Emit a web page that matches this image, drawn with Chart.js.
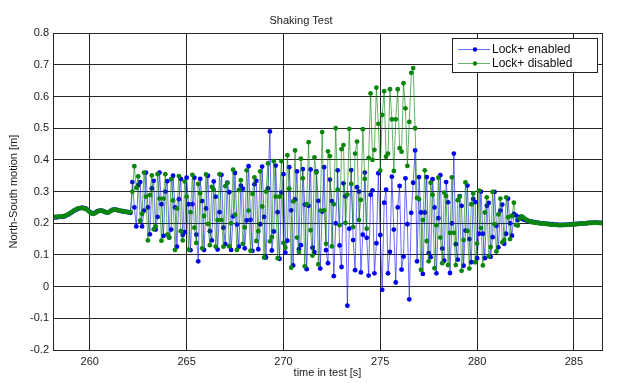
<!DOCTYPE html>
<html><head><meta charset="utf-8">
<script src="https://cdn.jsdelivr.net/npm/chart.js@4"></script>
<style>html,body{margin:0;padding:0;background:#fff;}canvas{display:block;}</style>
</head><body>
<canvas id="c" width="620" height="383"></canvas>
<script>
const chartTitle = 'Shaking Test';
const xAxisTitle = 'time in test [s]';
const yAxisTitle = 'North-South motion [m]';
const seriesNames = ['Lock+ enabled', 'Lock+ disabled'];
const xTicks = [260, 265, 270, 275, 280, 285];
const xTickLabels = ['260', '265', '270', '275', '280', '285'];
const yTicks = [-0.2, -0.1, 0, 0.1, 0.2, 0.3, 0.4, 0.5, 0.6, 0.7, 0.8];
const yTickLabels = ['-0.2', '-0.1', '0', '0.1', '0.2', '0.3', '0.4', '0.5', '0.6', '0.7', '0.8'];

const timeS = [
258.1,258.2,258.3,258.4,258.5,258.6,258.7,258.8,258.9,
259.0,259.1,259.2,259.3,259.4,259.5,259.6,259.7,259.8,259.9,
260.0,260.1,260.2,260.3,260.4,260.5,260.6,260.7,260.8,260.9,
261.0,261.1,261.2,261.3,261.4,261.5,261.6,261.7,261.8,261.9,
262.0,262.1,262.2,262.3,262.4,262.5,262.6,262.7,262.8,262.9,
263.0,263.1,263.2,263.3,263.4,263.5,263.6,263.7,263.8,263.9,
264.0,264.1,264.2,264.3,264.4,264.5,264.6,264.7,264.8,264.9,
265.0,265.1,265.2,265.3,265.4,265.5,265.6,265.7,265.8,265.9,
266.0,266.1,266.2,266.3,266.4,266.5,266.6,266.7,266.8,266.9,
267.0,267.1,267.2,267.3,267.4,267.5,267.6,267.7,267.8,267.9,
268.0,268.1,268.2,268.3,268.4,268.5,268.6,268.7,268.8,268.9,
269.0,269.1,269.2,269.3,269.4,269.5,269.6,269.7,269.8,269.9,
270.0,270.1,270.2,270.3,270.4,270.5,270.6,270.7,270.8,270.9,
271.0,271.1,271.2,271.3,271.4,271.5,271.6,271.7,271.8,271.9,
272.0,272.1,272.2,272.3,272.4,272.5,272.6,272.7,272.8,272.9,
273.0,273.1,273.2,273.3,273.4,273.5,273.6,273.7,273.8,273.9,
274.0,274.1,274.2,274.3,274.4,274.5,274.6,274.7,274.8,274.9,
275.0,275.1,275.2,275.3,275.4,275.5,275.6,275.7,275.8,275.9,
276.0,276.1,276.2,276.3,276.4,276.5,276.6,276.7,276.8,276.9,
277.0,277.1,277.2,277.3,277.4,277.5,277.6,277.7,277.8,277.9,
278.0,278.1,278.2,278.3,278.4,278.5,278.6,278.7,278.8,278.9,
279.0,279.1,279.2,279.3,279.4,279.5,279.6,279.7,279.8,279.9,
280.0,280.1,280.2,280.3,280.4,280.5,280.6,280.7,280.8,280.9,
281.0,281.1,281.2,281.3,281.4,281.5,281.6,281.7,281.8,281.9,
282.0,282.1,282.2,282.3,282.4,282.5,282.6,282.7,282.8,282.9,
283.0,283.1,283.2,283.3,283.4,283.5,283.6,283.7,283.8,283.9,
284.0,284.1,284.2,284.3,284.4,284.5,284.6,284.7,284.8,284.9,
285.0,285.1,285.2,285.3,285.4,285.5,285.6,285.7,285.8,285.9,
286.0,286.1,286.2,286.3,286.4
];

const lockEnabled = [
0.218,0.219,0.219,0.22,0.22,0.221,0.222,0.225,0.228,
0.232,0.236,0.24,0.243,0.246,0.248,0.249,0.248,0.246,0.242,
0.236,0.232,0.231,0.234,0.238,0.24,0.24,0.238,0.235,0.234,
0.236,0.24,0.243,0.243,0.242,0.24,0.239,0.238,0.237,0.236,
0.235,0.233,
0.33,0.25,0.19,0.32,0.33,0.19,0.24,0.36,0.25,0.165,
0.31,0.334,0.18,0.22,0.36,0.26,0.16,0.30,0.333,0.155,
0.18,0.35,0.25,0.126,0.276,0.34,0.163,0.172,0.344,0.26,
0.115,0.26,0.344,0.164,0.08,0.34,0.27,0.116,0.247,0.35,
0.175,0.146,0.332,0.284,0.117,0.235,0.353,0.186,0.134,0.328,
0.298,0.116,0.222,0.359,0.196,0.126,0.319,0.309,0.121,0.209,
0.38,0.211,0.113,0.323,0.334,0.118,0.197,0.379,0.22,0.092,
0.31,0.49,0.114,0.174,0.382,0.235,0.088,0.297,0.355,0.107,
0.145,0.377,0.241,0.067,0.275,0.364,0.118,0.131,0.371,0.259,
0.055,0.255,0.37,0.123,0.109,0.364,0.271,0.057,0.237,0.377,
0.115,0.074,0.338,0.27,0.033,0.2,0.367,0.13,0.062,0.326,
0.285,-0.06,0.183,0.368,0.147,0.052,0.314,0.30,0.045,0.164,
0.36,0.154,0.035,0.29,0.304,0.042,0.137,0.358,0.163,-0.01,
0.265,0.306,0.042,0.11,0.347,0.18,0.013,0.25,0.318,0.054,
0.095,0.342,0.197,-0.04,0.233,0.328,0.43,0.08,0.346,0.234,
0.04,0.234,0.346,0.106,0.093,0.339,0.25,0.042,0.216,0.352,
0.12,0.082,0.33,0.266,0.043,0.2,0.42,0.134,0.085,0.286,
0.255,0.066,0.177,0.319,0.15,0.077,0.277,0.267,0.09,0.167,
0.30,0.167,0.09,0.255,0.264,0.094,0.156,0.299,0.192,0.124,
0.24,0.259,0.135,0.167,0.278,0.2,0.161,0.23,0.225,0.21,
0.22,
0.215,0.212,0.21,0.208,0.206,0.205,0.204,
0.203,0.202,0.201,0.2,0.2,0.199,0.198,0.198,0.197,0.197,
0.196,0.196,0.195,0.195,0.195,0.195,0.195,0.196,0.196,0.197,
0.197,0.198,0.198,0.199,0.199,0.2,0.2,0.201,0.201,0.201,
0.202,0.202,0.202,0.201,0.201
];

const lockDisabled = [
0.219,0.22,0.22,0.221,0.221,0.222,0.223,0.226,0.229,
0.233,0.237,0.241,0.244,0.247,0.248,0.248,0.247,0.245,0.241,
0.235,0.231,0.23,0.233,0.237,0.239,0.24,0.238,0.236,0.234,
0.235,0.239,0.242,0.243,0.242,0.241,0.239,0.238,0.237,0.236,
0.234,0.236,
0.30,0.38,0.312,0.348,0.208,0.23,0.36,0.284,0.146,0.289,
0.351,0.181,0.19,0.355,0.278,0.145,0.278,0.355,0.164,0.155,
0.339,0.272,0.116,0.247,0.349,0.175,0.146,0.332,0.284,0.117,
0.235,0.353,0.186,0.138,0.324,0.295,0.121,0.223,0.354,0.198,
0.131,0.315,0.306,0.126,0.21,0.355,0.21,0.126,0.317,0.327,
0.127,0.2,0.369,0.227,0.116,0.305,0.336,0.135,0.187,0.367,
0.24,0.113,0.293,0.345,0.144,0.175,0.364,0.253,0.092,0.30,
0.389,0.143,0.156,0.396,0.284,0.09,0.284,0.396,0.138,0.123,
0.415,0.309,0.06,0.269,0.43,0.155,0.109,0.404,0.342,0.064,
0.26,0.456,0.178,0.098,0.408,0.36,0.07,0.24,0.488,0.241,
0.135,0.427,0.412,0.127,0.26,0.50,0.306,0.194,0.434,0.447,
0.201,0.29,0.498,0.324,0.188,0.42,0.458,0.21,0.274,0.497,
0.34,0.183,0.406,0.61,0.40,0.432,0.628,0.514,0.366,0.542,
0.617,0.41,0.42,0.623,0.528,0.365,0.528,0.623,0.437,0.426,
0.642,0.563,0.381,0.52,0.675,0.69,0.50,0.28,0.276,0.053,
0.21,0.367,0.144,0.08,0.328,0.29,0.058,0.194,0.344,0.155,
0.074,0.297,0.286,0.068,0.17,0.345,0.17,0.068,0.273,0.284,
0.05,0.147,0.329,0.176,0.057,0.26,0.294,0.077,0.136,0.303,
0.185,0.067,0.234,0.282,0.096,0.125,0.299,0.197,0.111,0.228,
0.278,0.14,0.147,0.282,0.219,0.15,0.223,0.265,0.195,0.193,
0.215,
0.222,0.218,0.213,0.209,0.206,0.204,0.203,
0.202,0.201,0.2,0.2,0.199,0.198,0.198,0.197,0.196,0.196,
0.195,0.195,0.194,0.194,0.194,0.195,0.195,0.195,0.196,0.196,
0.197,0.197,0.198,0.198,0.199,0.2,0.2,0.2,0.201,0.201,
0.201,0.202,0.202,0.201,0.201
];

const FONT = '"Liberation Sans", Arial, Helvetica, sans-serif';
Chart.defaults.font.family = FONT;
Chart.defaults.font.size = 11;
Chart.defaults.color = '#1a1a1a';

const GRID = '#262626';

const framePlugin = {
  id: 'frame',
  afterDatasetsDraw(chart) {
    const {ctx, chartArea: a} = chart;
    ctx.save();
    ctx.strokeStyle = GRID;
    ctx.lineWidth = 1;
    ctx.strokeRect(Math.round(a.left) + 0.5, Math.round(a.top) + 0.5,
      Math.round(a.right) - Math.round(a.left), Math.round(a.bottom) - Math.round(a.top));
    ctx.restore();
  }
};

const boxLegend = {
  id: 'boxLegend',
  afterDraw(chart) {
    const {ctx, chartArea: a} = chart;
    const w = 145, h = 34;
    const x = Math.round(a.right - 5 - w), y = Math.round(a.top + 5);
    ctx.save();
    ctx.fillStyle = '#fff';
    ctx.fillRect(x, y, w, h);
    ctx.strokeStyle = '#222';
    ctx.lineWidth = 1;
    ctx.strokeRect(x + 0.5, y + 0.5, w, h);
    chart.data.datasets.forEach((ds, i) => {
      const ly = y + 11.5 + i * 14;
      ctx.strokeStyle = ds.borderColor;
      ctx.lineWidth = 1;
      ctx.beginPath();
      ctx.moveTo(x + 6, ly);
      ctx.lineTo(x + 38, ly);
      ctx.stroke();
      ctx.fillStyle = ds.pointBackgroundColor;
      ctx.beginPath();
      ctx.arc(x + 23, ly, 2.2, 0, Math.PI * 2);
      ctx.fill();
      ctx.fillStyle = '#111';
      ctx.font = '12px ' + FONT;
      ctx.textBaseline = 'middle';
      ctx.textAlign = 'left';
      ctx.fillText(ds.label, x + 40, ly + 0.5);
    });
    ctx.restore();
  }
};

const toPoints = (ys) => timeS.map((t, i) => ({x: t, y: ys[i]}));

new Chart(document.getElementById('c'), {
  type: 'line',
  data: {
    datasets: [
      {
        label: seriesNames[0],
        data: toPoints(lockEnabled),
        borderColor: 'rgba(20,20,255,0.62)',
        borderWidth: 1,
        pointRadius: 2.4,
        pointBorderWidth: 0,
        pointBackgroundColor: '#0000f0',
        pointHoverRadius: 0,
        tension: 0,
        order: 1
      },
      {
        label: seriesNames[1],
        data: toPoints(lockDisabled),
        borderColor: 'rgba(0,128,0,0.6)',
        borderWidth: 1,
        pointRadius: 2.4,
        pointBorderWidth: 0,
        pointBackgroundColor: '#0c850c',
        pointHoverRadius: 0,
        tension: 0,
        order: 0
      }
    ]
  },
  options: {
    responsive: false,
    animation: false,
    devicePixelRatio: 1,
    events: [],
    layout: {padding: {left: 0, right: 18, top: 0, bottom: 0}},
    plugins: {
      legend: {display: false},
      tooltip: {enabled: false},
      title: {
        display: true,
        text: chartTitle,
        color: '#1a1a1a',
        font: {size: 11, weight: 'normal', family: FONT},
        padding: {top: 14, bottom: 6}
      }
    },
    scales: {
      x: {
        type: 'linear',
        min: 258.1,
        max: 286.45,
        afterBuildTicks: (s) => { s.ticks = xTicks.map(v => ({value: v})); },
        afterFit: (s) => { s.height = 33; },
        ticks: {
          autoSkip: false, maxRotation: 0, padding: 5, color: '#1a1a1a',
          callback: (v, i) => xTickLabels[i]
        },
        grid: {color: GRID, lineWidth: 1, drawTicks: false},
        border: {display: true, color: GRID},
        title: {display: true, text: xAxisTitle, color: '#1a1a1a', font: {size: 11}, padding: {top: 0, bottom: 3}}
      },
      y: {
        min: -0.2,
        max: 0.8,
        afterBuildTicks: (s) => { s.ticks = yTicks.map(v => ({value: v})); },
        afterFit: (s) => { s.width = 53; },
        ticks: {
          padding: 4, color: '#1a1a1a',
          callback: (v, i) => yTickLabels[i]
        },
        grid: {color: GRID, lineWidth: 1, drawTicks: false},
        border: {display: true, color: GRID},
        title: {display: true, text: yAxisTitle, color: '#1a1a1a', font: {size: 11}, padding: {top: 7, bottom: 0}}
      }
    }
  },
  plugins: [framePlugin, boxLegend]
});
</script>
</body></html>
